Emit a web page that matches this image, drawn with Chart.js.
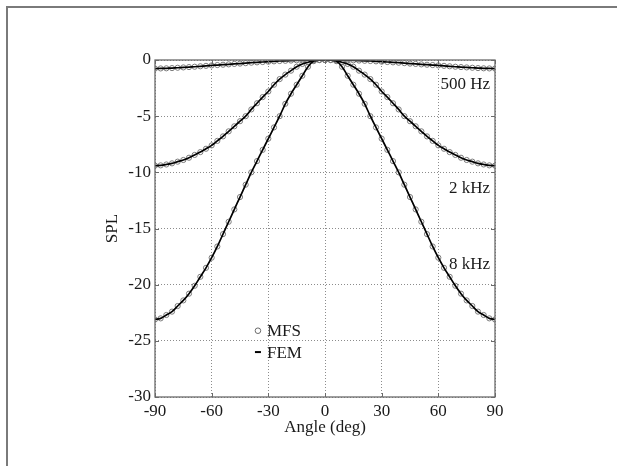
<!DOCTYPE html>
<html>
<head>
<meta charset="utf-8">
<script src="https://cdn.jsdelivr.net/npm/chart.js@4/dist/chart.umd.min.js"></script>
<style>
  html, body { margin: 0; padding: 0; background: #fff; overflow: hidden; }
  #wrap { position: relative; width: 617px; height: 466px; }
  #frame { position: absolute; left: 6px; top: 6px; width: 700px; height: 600px; border: 2px solid #7a7a7a; box-sizing: border-box; }
  canvas { position: absolute; left: 0; top: 0; }
</style>
</head>
<body>
<div id="wrap">
  <div id="frame"></div>
  <canvas id="c" width="617" height="466"></canvas>
</div>
<script>
// ---- Data ----
const angles = [-90,-87,-84,-81,-78,-75,-72,-69,-66,-63,-60,-57,-54,-51,-48,-45,-42,-39,-36,-33,-30,-27,-24,-21,-18,-15,-12,-9,-6,-3,0,3,6,9,12,15,18,21,24,27,30,33,36,39,42,45,48,51,54,57,60,63,66,69,72,75,78,81,84,87,90];

const spl500 = [-0.76,-0.75,-0.74,-0.72,-0.69,-0.66,-0.63,-0.60,-0.56,-0.52,-0.48,-0.45,-0.42,-0.39,-0.35,-0.32,-0.28,-0.24,-0.21,-0.18,-0.15,-0.12,-0.09,-0.07,-0.05,-0.03,-0.02,-0.01,0,0,0,0,0,-0.01,-0.02,-0.03,-0.05,-0.07,-0.09,-0.12,-0.15,-0.18,-0.21,-0.24,-0.28,-0.32,-0.35,-0.39,-0.42,-0.45,-0.48,-0.52,-0.56,-0.60,-0.63,-0.66,-0.69,-0.72,-0.74,-0.75,-0.76];

const spl2k = [-9.4,-9.38,-9.3,-9.2,-9.05,-8.9,-8.7,-8.45,-8.2,-7.9,-7.6,-7.2,-6.8,-6.35,-5.9,-5.45,-5.0,-4.4,-3.85,-3.3,-2.8,-2.2,-1.7,-1.3,-0.95,-0.6,-0.35,-0.2,-0.05,0,0,0,-0.05,-0.2,-0.35,-0.6,-0.95,-1.3,-1.7,-2.2,-2.8,-3.3,-3.85,-4.4,-5.0,-5.45,-5.9,-6.35,-6.8,-7.2,-7.6,-7.9,-8.2,-8.45,-8.7,-8.9,-9.05,-9.2,-9.3,-9.38,-9.4];

const spl8k = [-23.1,-23.0,-22.7,-22.4,-21.9,-21.4,-20.8,-20.1,-19.3,-18.5,-17.6,-16.6,-15.5,-14.4,-13.3,-12.2,-11.1,-10.0,-9.0,-8.0,-7.0,-6.0,-5.0,-3.9,-3.0,-2.2,-1.4,-0.6,-0.1,0,0,0,-0.1,-0.6,-1.4,-2.2,-3.0,-3.9,-5.0,-6.0,-7.0,-8.0,-9.0,-10.0,-11.1,-12.2,-13.3,-14.4,-15.5,-16.6,-17.6,-18.5,-19.3,-20.1,-20.8,-21.4,-21.9,-22.4,-22.7,-23.0,-23.1];

const curveLabels = ['500 Hz', '2 kHz', '8 kHz'];
const seriesNames = ['MFS', 'FEM'];
const xTitle = 'Angle (deg)';
const yTitle = 'SPL';

// ---- Chart ----
const FONT = "'Liberation Serif', 'Times New Roman', serif";
Chart.defaults.font.family = FONT;
Chart.defaults.font.size = 17;
Chart.defaults.color = '#1a1a1a';

const curves = [spl500, spl2k, spl8k];
const datasets = [];
curves.forEach((vals) => {
  const pts = angles.map((a, i) => ({ x: a, y: vals[i] }));
  datasets.push({
    label: seriesNames[0], data: pts, showLine: false,
    pointRadius: 2.6, pointBorderWidth: 1, pointBorderColor: '#7c7c7c',
    pointBackgroundColor: 'rgba(255,255,255,0)', order: 1
  });
  datasets.push({
    label: seriesNames[1], data: pts, showLine: true, borderColor: '#000',
    borderWidth: 1.7, pointRadius: 0, tension: 0.3, fill: false, order: 0
  });
});

// annotation positions in data units (y) placed at right of plot
const labelY = [-2.14, -11.4, -18.25];

const decor = {
  id: 'decor',
  afterDraw(chart) {
    const { ctx, chartArea: a, scales: { x, y } } = chart;
    ctx.save();
    // inward ticks
    ctx.strokeStyle = '#6a6a6a';
    ctx.lineWidth = 1;
    ctx.beginPath();
    x.ticks.forEach(t => {
      const px = Math.round(x.getPixelForValue(t.value)) + 0.5;
      ctx.moveTo(px, a.bottom); ctx.lineTo(px, a.bottom - 4);
      ctx.moveTo(px, a.top); ctx.lineTo(px, a.top + 4);
    });
    y.ticks.forEach(t => {
      const py = Math.round(y.getPixelForValue(t.value)) + 0.5;
      ctx.moveTo(a.left, py); ctx.lineTo(a.left + 4, py);
      ctx.moveTo(a.right, py); ctx.lineTo(a.right - 4, py);
    });
    ctx.stroke();
    // box
    ctx.strokeStyle = '#6a6a6a';
    ctx.lineWidth = 1.3;
    ctx.strokeRect(a.left, a.top, a.right - a.left, a.bottom - a.top);

    // curve labels
    ctx.font = '17px ' + FONT;
    ctx.fillStyle = '#1a1a1a';
    ctx.textAlign = 'right';
    ctx.textBaseline = 'middle';
    curveLabels.forEach((s, i) => ctx.fillText(s, a.right - 5, y.getPixelForValue(labelY[i])));

    // legend
    const lx = x.getPixelForValue(-35.5);
    const ly1 = y.getPixelForValue(-24.1);
    const ly2 = y.getPixelForValue(-26.0);
    ctx.strokeStyle = '#6a6a6a';
    ctx.lineWidth = 1;
    ctx.beginPath(); ctx.arc(lx, ly1, 2.8, 0, Math.PI * 2); ctx.stroke();
    ctx.strokeStyle = '#000';
    ctx.lineWidth = 2;
    ctx.beginPath(); ctx.moveTo(lx - 3, ly2); ctx.lineTo(lx + 3, ly2); ctx.stroke();
    ctx.textAlign = 'left';
    ctx.fillText(seriesNames[0], lx + 9, ly1 + 1);
    ctx.fillText(seriesNames[1], lx + 9, ly2 + 1);
    ctx.restore();
  }
};

new Chart(document.getElementById('c'), {
  type: 'scatter',
  data: { datasets },
  options: {
    responsive: false,
    animation: false,
    devicePixelRatio: 1,
    layout: { padding: { top: 60, right: 122, bottom: 19, left: 0 } },
    plugins: { legend: { display: false }, tooltip: { enabled: false } },
    scales: {
      x: {
        type: 'linear', min: -90, max: 90,
        afterFit(s) { s.height = 50; },
        ticks: { stepSize: 30, padding: 4, maxRotation: 0, autoSkip: false, color: '#1a1a1a' },
        grid: { color: '#8c8c8c', lineWidth: 1, drawTicks: false },
        border: { display: false, dash: [1, 2] },
        title: { display: true, text: xTitle, padding: { top: 0, bottom: 9 }, color: '#1a1a1a' }
      },
      y: {
        type: 'linear', min: -30, max: 0,
        afterFit(s) { s.width = 155; },
        ticks: { stepSize: 5, padding: 4, autoSkip: false, color: '#1a1a1a' },
        grid: { color: '#8c8c8c', lineWidth: 1, drawTicks: false },
        border: { display: false, dash: [1, 2] },
        title: { display: true, text: yTitle, padding: { top: 102, bottom: 0 }, color: '#1a1a1a' }
      }
    }
  },
  plugins: [decor]
});
</script>
</body>
</html>
